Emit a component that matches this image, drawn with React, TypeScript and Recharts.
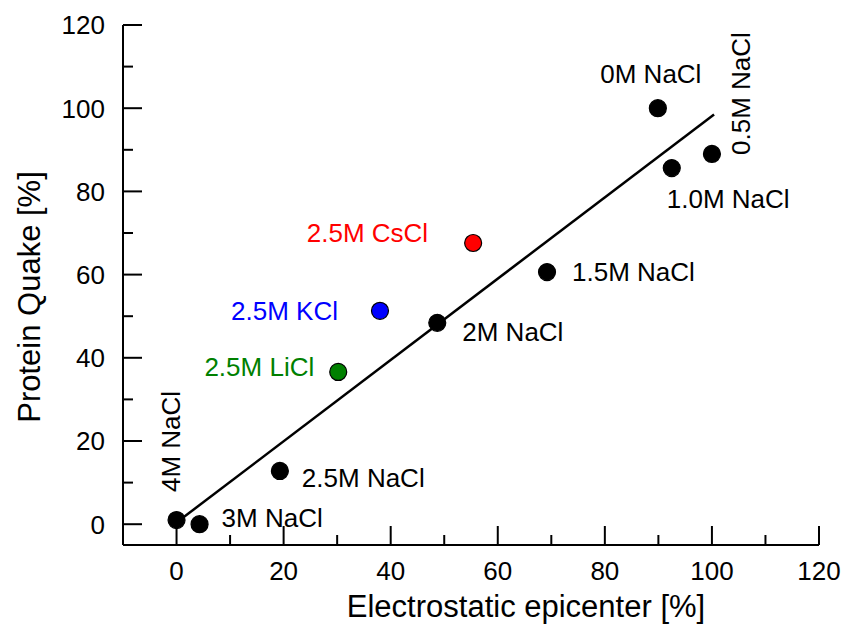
import { ScatterChart, Scatter, XAxis, YAxis, Label } from 'recharts'

const FONT = '"Liberation Sans", Arial, sans-serif'

const NAMES = [
  '4M NaCl', '3M NaCl', '2.5M NaCl', '2.5M LiCl', '2.5M KCl', '2M NaCl',
  '2.5M CsCl', '1.5M NaCl', '0M NaCl', '1.0M NaCl', '0.5M NaCl',
]
const EPICENTER = [0, 4.3, 19.3, 30.2, 38.0, 48.7, 55.4, 69.2, 89.9, 92.5, 100]
const QUAKE = [1.0, 0, 12.8, 36.6, 51.3, 48.4, 67.6, 60.6, 100, 85.6, 89.0]
const COLORS = [
  '#000', '#000', '#000', '#008000', '#0000ff', '#000',
  '#ff0000', '#000', '#000', '#000', '#000',
]

// linear fit through the points
const FIT_X = [0, 100.4]
const FIT_Y = [0.4, 98.5]

const X_TICKS = [0, 10, 20, 30, 40, 50, 60, 70, 80, 90, 100, 110, 120]
const Y_TICKS = [0, 10, 20, 30, 40, 50, 60, 70, 80, 90, 100, 110, 120]

// label placement relative to the dot: [dx, dy, anchor, vertical]
const LABEL_POS: [number, number, string, boolean][] = [
  [3, -28, 'start', true],
  [22, 3, 'start', false],
  [22, 16, 'start', false],
  [-24, 4, 'end', false],
  [-42, 9, 'end', false],
  [25, 18, 'start', false],
  [-45, -1, 'end', false],
  [25, 9, 'start', false],
  [-7, -25, 'middle', false],
  [-5, 40, 'start', false],
  [38, 1, 'start', true],
]

const points = NAMES.map((name, i) => ({
  name, x: EPICENTER[i], y: QUAKE[i], color: COLORS[i], idx: i,
}))
const fit = FIT_X.map((x, i) => ({ x, y: FIT_Y[i] }))

function PointShape(props: any) {
  const { cx, cy, payload } = props
  const [dx, dy, anchor, vertical] = LABEL_POS[payload.idx]
  const tx = cx + dx
  const ty = cy + dy
  return (
    <g>
      <circle cx={cx} cy={cy} r={8.5} fill={payload.color} stroke="#000" strokeWidth={1.2} />
      <text
        x={tx}
        y={ty}
        textAnchor={anchor}
        fill={payload.color}
        fontSize={26}
        fontFamily={FONT}
        transform={vertical ? `rotate(-90, ${tx}, ${ty})` : undefined}
      >
        {payload.name}
      </text>
    </g>
  )
}

function XTick(props: any) {
  const { x, y, payload } = props
  const major = payload.value % 20 === 0
  return (
    <g>
      <line x1={x} y1={y} x2={x} y2={y - (major ? 19 : 10)} stroke="#000" strokeWidth={2} />
      {major && (
        <text x={x} y={y + 35} textAnchor="middle" fontSize={26} fontFamily={FONT} fill="#000">
          {payload.value}
        </text>
      )}
    </g>
  )
}

function YTick(props: any) {
  const { x, y, payload } = props
  const major = payload.value % 20 === 0
  return (
    <g>
      <line x1={x} y1={y} x2={x + (major ? 19 : 10)} y2={y} stroke="#000" strokeWidth={2} />
      {major && (
        <text x={x - 18} y={y} dy="0.36em" textAnchor="end" fontSize={26} fontFamily={FONT} fill="#000">
          {payload.value}
        </text>
      )}
    </g>
  )
}

export default function App() {
  return (
    <div style={{ position: 'absolute', left: 0, top: 0, background: '#fff' }}>
      <ScatterChart width={848} height={626} margin={{ top: 25, right: 29, left: 0, bottom: 0 }}>
        <XAxis
          type="number"
          dataKey="x"
          domain={[-10, 120]}
          ticks={X_TICKS}
          allowDataOverflow
          height={81}
          axisLine={{ stroke: '#000', strokeWidth: 2 }}
          tickLine={false}
          tickSize={0}
          tickMargin={0}
          tick={<XTick />}
          interval={0}
        >
          <Label
            content={(p: any) => {
              const vb = p.viewBox
              return (
                <text x={vb.x + vb.width / 2 + 55} y={vb.y + 72} textAnchor="middle" fontSize={31} fontFamily={FONT} fill="#000">
                  Electrostatic epicenter [%]
                </text>
              )
            }}
          />
        </XAxis>
        <YAxis
          type="number"
          dataKey="y"
          domain={[-5, 120]}
          ticks={Y_TICKS}
          allowDataOverflow
          width={123}
          axisLine={{ stroke: '#000', strokeWidth: 2 }}
          tickLine={false}
          tickSize={0}
          tickMargin={0}
          tick={<YTick />}
          interval={0}
        >
          <Label
            content={(p: any) => {
              const vb = p.viewBox
              const cx = 29
              const cy = vb.y + vb.height / 2 + 12
              return (
                <text x={cx} y={cy} dy="0.36em" textAnchor="middle" fontSize={31} fontFamily={FONT} fill="#000"
                  transform={`rotate(-90, ${cx}, ${cy})`}>
                  Protein Quake [%]
                </text>
              )
            }}
          />
        </YAxis>
        <XAxis xAxisId="top" orientation="top" type="number" domain={[-10, 120]} height={0}
          tick={false} tickLine={false} axisLine={{ stroke: '#000', strokeWidth: 2 }} />
        <YAxis yAxisId="right" orientation="right" type="number" domain={[-5, 120]} width={0}
          tick={false} tickLine={false} axisLine={{ stroke: '#000', strokeWidth: 2 }} />
        <Scatter data={fit} line={{ stroke: '#000', strokeWidth: 2.5 }} shape={() => <g />} isAnimationActive={false} />
        <Scatter data={points} shape={<PointShape />} isAnimationActive={false} />
      </ScatterChart>
    </div>
  )
}
